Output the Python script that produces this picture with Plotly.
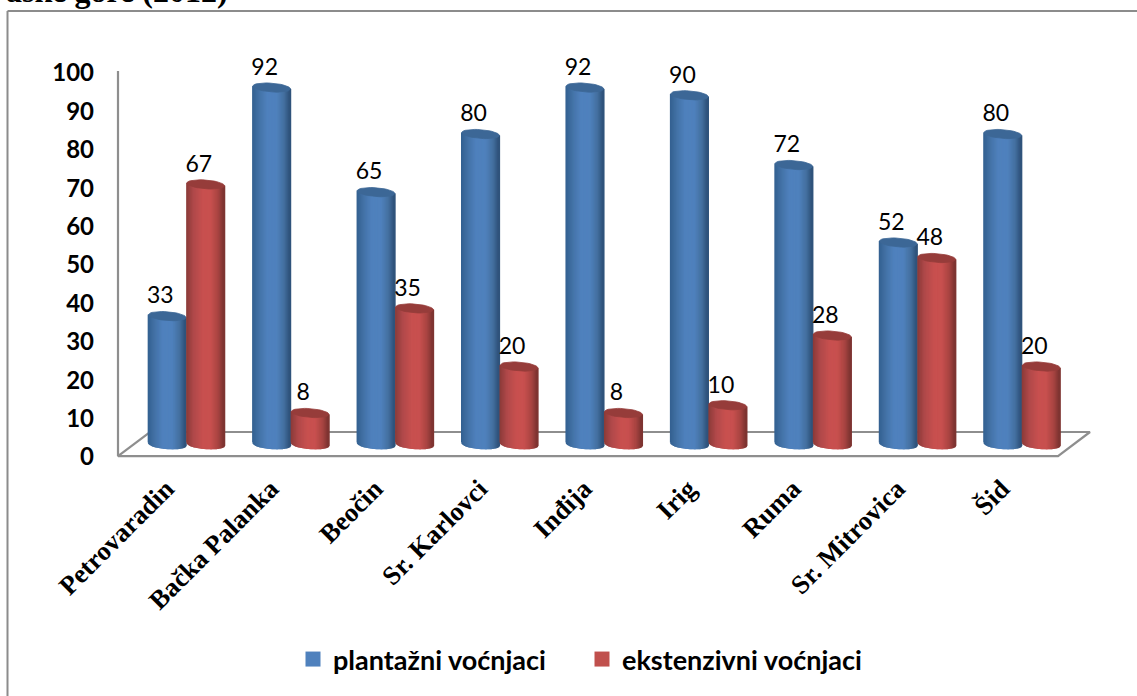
import math
import plotly.graph_objects as go

categories = ["Petrovaradin", "Bačka Palanka", "Beočin", "Sr. Karlovci", "Inđija", "Irig", "Ruma", "Sr. Mitrovica", "Šid"]
plantazni = [33, 92, 65, 80, 92, 90, 72, 52, 80]
ekstenzivni = [67, 8, 35, 20, 8, 10, 28, 48, 20]
y_ticks = list(range(0, 101, 10))
series_names = ["plantažni voćnjaci", "ekstenzivni voćnjaci"]
title_fragment = "aske gore (2012)"

# axis calibration in page pixels: x=-0.5 at L, x=8.5 at R, y=0 at B, y=100 at T
L, R, T, B = 118, 1058, 71, 455
W, H = 1137, 696
PXX = (R - L) / 9
PXY = (B - T) / 100
# plot frame is padded so that the floor and axis lines are not clipped
PAD_L, PAD_R, PAD_T, PAD_B = 6, 42, 8, 8
PL, PR, PT, PB = L - PAD_L, R + PAD_R, T - PAD_T, B + PAD_B

def hexrgb(h):
    return tuple(int(h[i:i + 2], 16) for i in (1, 3, 5))

def ramp(stops, u):
    for (a, ca), (b, cb) in zip(stops, stops[1:]):
        if a <= u <= b:
            t = (u - a) / (b - a)
            c = [round(p + (q - p) * t) for p, q in zip(hexrgb(ca), hexrgb(cb))]
            return f"rgb({c[0]},{c[1]},{c[2]})"
    return stops[-1][1]

blue_ramp = [(-1, "#33608f"), (-0.6, "#4473a8"), (-0.2, "#4f81bd"), (0.3, "#4f81bd"), (0.7, "#44709f"), (1, "#2d5078")]
red_ramp = [(-1, "#8a3a38"), (-0.6, "#b0494a"), (-0.1, "#c8504f"), (0.3, "#c8504f"), (0.7, "#a84441"), (1, "#7a3230")]

DEPTH_Y = 11 / PXY
STRETCH = 1.009
RX = 18.8 / PXX
RY = 4.4 / PXY
SHEAR = 1.4 / PXY
N = 40

def top_y(v):
    return DEPTH_Y + STRETCH * v

fig = go.Figure()

# floor of the 3D box and the value axis line
bx, by = 32 / PXX, (B - 432) / PXY
fy = -1.2 / PXY
fig.add_trace(go.Scatter(
    x=[-0.5, -0.5, -0.5 + bx, 8.5 + bx, 8.5, -0.5],
    y=[100, fy, by, by, fy, fy],
    mode="lines", line=dict(color="#8e8e8e", width=2.2),
    showlegend=False, hoverinfo="skip"))

def cylinders(values, offset, stops, top_color):
    for k in range(N):
        u1 = -1 + 2 * k / N
        u2 = -1 + 2 * (k + 1) / N
        xs, ys = [], []
        for i, v in enumerate(values):
            cx = i + offset
            arc1 = RY * math.sqrt(max(0, 1 - u1 * u1))
            arc2 = RY * math.sqrt(max(0, 1 - u2 * u2))
            y_b = DEPTH_Y
            y_t = top_y(v)
            xs += [cx + u1 * RX, cx + u2 * RX, cx + u2 * RX, cx + u1 * RX, cx + u1 * RX, None]
            ys += [y_b - arc1 - SHEAR * u1, y_b - arc2 - SHEAR * u2,
                   y_t - arc2 - SHEAR * u2, y_t - arc1 - SHEAR * u1,
                   y_b - arc1 - SHEAR * u1, None]
        col = ramp(stops, (u1 + u2) / 2)
        fig.add_trace(go.Scatter(x=xs, y=ys, mode="lines", fill="toself", fillcolor=col,
                                 line=dict(color=col, width=1.5),
                                 showlegend=False, hoverinfo="skip"))
    xs, ys = [], []
    for i, v in enumerate(values):
        for a in range(41):
            th = 2 * math.pi * a / 40
            c = math.cos(th)
            xs.append(i + offset + RX * c)
            ys.append(top_y(v) + RY * math.sin(th) - SHEAR * c)
        xs.append(None)
        ys.append(None)
    fig.add_trace(go.Scatter(x=xs, y=ys, mode="lines", fill="toself", fillcolor=top_color,
                             line=dict(color=top_color, width=0.8),
                             showlegend=False, hoverinfo="skip"))

def labels(values, offset):
    fig.add_trace(go.Scatter(
        x=[i + offset - 7 / PXX for i in range(len(values))],
        y=[top_y(v) + 18.5 / PXY for v in values],
        text=[str(v) for v in values], mode="text", textposition="middle center",
        textfont=dict(family="Lato", size=23, color="#000000"),
        cliponaxis=False, showlegend=False, hoverinfo="skip"))

OFF_B = -3 / PXX
OFF_R = 35.5 / PXX
cylinders(plantazni, OFF_B, blue_ramp, "#3c6796")
cylinders(ekstenzivni, OFF_R, red_ramp, "#963c3a")
labels(plantazni, OFF_B)
labels(ekstenzivni, OFF_R)

for name, col in zip(series_names, ["#4f81bd", "#c0504d"]):
    fig.add_trace(go.Scatter(x=[None], y=[None], mode="markers", name=name,
                             marker=dict(symbol="square", size=15, color=col)))

def px(x):
    return (x - PL) / (PR - PL)

def py(y):
    return (PB - y) / (PB - PT)

fig.add_shape(type="line", xref="paper", yref="paper", x0=px(7.5), x1=px(7.5), y0=py(720), y1=py(11),
              line=dict(color="#8c8c8c", width=2))
fig.add_shape(type="line", xref="paper", yref="paper", x0=px(7.5), x1=px(1160), y0=py(11), y1=py(11),
              line=dict(color="#8c8c8c", width=2))

fig.add_annotation(text=f"<b>{title_fragment}</b>", xref="paper", yref="paper",
                   x=px(230), y=py(11), xanchor="right", yanchor="bottom", showarrow=False,
                   font=dict(family="Liberation Serif", size=32, color="#000000"))

fig.update_layout(
    width=W, height=H, margin=dict(l=PL, r=W - PR, t=PT, b=H - PB, autoexpand=False),
    paper_bgcolor="#ffffff", plot_bgcolor="#ffffff",
    xaxis=dict(range=[-0.5 - PAD_L / PXX, 8.5 + PAD_R / PXX], tickmode="array", tickvals=list(range(9)),
               ticktext=categories, tickangle=-45, showgrid=False, zeroline=False, showline=False, ticks="",
               ticklabelstandoff=4, ticklabelshift=-4,
               tickfont=dict(family="Liberation Serif", size=26.5, color="#000000", weight="bold")),
    yaxis=dict(range=[-PAD_B / PXY, 100 + PAD_T / PXY], tickmode="array", tickvals=y_ticks,
               ticktext=[str(t) for t in y_ticks],
               showgrid=False, zeroline=False, showline=False, ticks="",
               ticklabelstandoff=17, ticklabelshift=2,
               tickfont=dict(family="Lato", size=24, color="#000000", weight="bold")),
    legend=dict(orientation="h", x=px(293), xanchor="left", y=py(635), yanchor="top",
                font=dict(family="Lato", size=27, color="#000000", weight="bold"),
                entrywidth=244, entrywidthmode="pixels", bgcolor="rgba(0,0,0,0)"),
    showlegend=True,
)

fig.write_html("out.html", config={"displayModeBar": False},
               post_script="document.body.style.margin='0';")
